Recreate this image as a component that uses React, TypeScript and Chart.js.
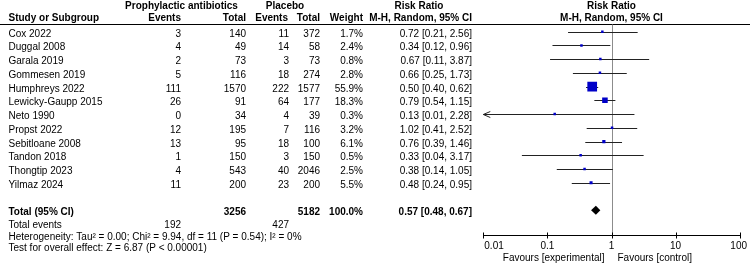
import React, { useEffect, useRef } from "react";
import { Chart, registerables } from "chart.js";
Chart.register(...registerables);

const studies = [
  "Cox 2022", "Duggal 2008", "Garala 2019", "Gommesen 2019", "Humphreys 2022", "Lewicky-Gaupp 2015",
  "Neto 1990", "Propst 2022", "Sebitloane 2008", "Tandon 2018", "Thongtip 2023", "Yilmaz 2024",
];
const expEvents = [3, 4, 2, 5, 111, 26, 0, 12, 13, 1, 4, 11];
const expTotal = [140, 49, 73, 116, 1570, 91, 34, 195, 95, 150, 543, 200];
const ctrlEvents = [11, 14, 3, 18, 222, 64, 4, 7, 18, 3, 40, 23];
const ctrlTotal = [372, 58, 73, 274, 1577, 177, 39, 116, 100, 150, 2046, 200];
const weights = [1.7, 2.4, 0.8, 2.8, 55.9, 18.3, 0.3, 3.2, 6.1, 0.5, 2.5, 5.5];
const riskRatio = [0.72, 0.34, 0.67, 0.66, 0.5, 0.79, 0.13, 1.02, 0.76, 0.33, 0.38, 0.48];
const ciLow = [0.21, 0.12, 0.11, 0.25, 0.4, 0.54, 0.01, 0.41, 0.39, 0.04, 0.14, 0.24];
const ciHigh = [2.56, 0.96, 3.87, 1.73, 0.62, 1.15, 2.28, 2.52, 1.46, 3.17, 1.05, 0.95];

const totalExp = 3256;
const totalCtrl = 5182;
const totalWeight = 100.0;
const pooledRR = 0.57;
const pooledLow = 0.48;
const pooledHigh = 0.67;
const totalExpEvents = 192;
const totalCtrlEvents = 427;
const heterogeneityText = "Heterogeneity: Tau\u00b2 = 0.00; Chi\u00b2 = 9.94, df = 11 (P = 0.54); I\u00b2 = 0%";
const overallText = "Test for overall effect: Z = 6.87 (P < 0.00001)";

const axisTicks = [0.01, 0.1, 1, 10, 100];
const tickLabels = ["0.01", "0.1", "1", "10", "100"];
const favoursLeft = "Favours [experimental]";
const favoursRight = "Favours [control]";

const FONT = "'Liberation Sans', Arial, Helvetica, sans-serif";
const REG = `10px ${FONT}`;
const BOLD = `bold 10px ${FONT}`;

const fmt2 = (v: number) => v.toFixed(2);
const rrText = (r: number, l: number, h: number) => `${fmt2(r)} [${fmt2(l)}, ${fmt2(h)}]`;
const squareSide = (w: number) => Math.max(2.5, 1.3 * Math.sqrt(w));

export default function App() {
  const ref = useRef<HTMLCanvasElement>(null);

  useEffect(() => {
    document.body.style.margin = "0";
    const canvas = ref.current!;

    const forestPlugin = {
      id: "forest",
      beforeDatasetsDraw(chart: any) {
        const ctx = chart.ctx;
        const xs = chart.scales.x;
        const ys = chart.scales.y;
        const area = chart.chartArea;
        ctx.save();
        // header rule
        ctx.strokeStyle = "#000";
        ctx.lineWidth = 1;
        ctx.beginPath();
        ctx.moveTo(0, 24.5);
        ctx.lineTo(750, 24.5);
        ctx.stroke();
        // line of no effect
        const x1 = Math.round(xs.getPixelForValue(1)) + 0.5;
        ctx.strokeStyle = "#8c8c8c";
        ctx.beginPath();
        ctx.moveTo(x1, area.top);
        ctx.lineTo(x1, area.bottom);
        ctx.stroke();
        // confidence intervals
        ctx.strokeStyle = "#222";
        studies.forEach((_, i) => {
          const yy = Math.round(ys.getPixelForValue(i)) + 0.5;
          const clipLo = ciLow[i] <= xs.min;
          const clipHi = ciHigh[i] >= xs.max;
          const xl = xs.getPixelForValue(Math.max(ciLow[i], xs.min));
          const xh = xs.getPixelForValue(Math.min(ciHigh[i], xs.max));
          ctx.beginPath();
          ctx.moveTo(xl, yy);
          ctx.lineTo(xh, yy);
          if (clipLo) {
            ctx.moveTo(xl + 7, yy - 3);
            ctx.lineTo(xl, yy);
            ctx.lineTo(xl + 7, yy + 3);
          }
          if (clipHi) {
            ctx.moveTo(xh - 7, yy - 3);
            ctx.lineTo(xh, yy);
            ctx.lineTo(xh - 7, yy + 3);
          }
          ctx.stroke();
        });
        ctx.restore();
      },
      afterDatasetsDraw(chart: any) {
        const ctx = chart.ctx;
        const xs = chart.scales.x;
        const ys = chart.scales.y;
        const yy = ys.getPixelForValue(13);
        const xl = xs.getPixelForValue(pooledLow);
        const xm = xs.getPixelForValue(pooledRR);
        const xh = xs.getPixelForValue(pooledHigh);
        ctx.save();
        ctx.fillStyle = "#000";
        ctx.beginPath();
        ctx.moveTo(xl, yy);
        ctx.lineTo(xm, yy - 4.5);
        ctx.lineTo(xh, yy);
        ctx.lineTo(xm, yy + 4.5);
        ctx.closePath();
        ctx.fill();
        ctx.restore();
      },
      afterDraw(chart: any) {
        const ctx = chart.ctx;
        const xs = chart.scales.x;
        const ys = chart.scales.y;
        const area = chart.chartArea;
        ctx.save();
        ctx.fillStyle = "#000";
        ctx.textBaseline = "alphabetic";

        const put = (t: string, x: number, y: number, align: CanvasTextAlign, bold = false) => {
          ctx.font = bold ? BOLD : REG;
          ctx.textAlign = align;
          ctx.fillText(t, x, y);
        };

        // headers
        put("Prophylactic antibiotics", 181.5, 8.5, "center", true);
        put("Placebo", 285, 8.5, "center", true);
        put("Risk Ratio", 419, 8.5, "center", true);
        put("Risk Ratio", 611.5, 8.5, "center", true);
        put("Study or Subgroup", 8.5, 20.5, "left", true);
        put("Events", 181, 20.5, "right", true);
        put("Total", 246, 20.5, "right", true);
        put("Events", 288, 20.5, "right", true);
        put("Total", 320, 20.5, "right", true);
        put("Weight", 363, 20.5, "right", true);
        put("M-H, Random, 95% CI", 472, 20.5, "right", true);
        put("M-H, Random, 95% CI", 611.5, 20.5, "center", true);

        // study rows
        studies.forEach((s, i) => {
          const b = ys.getPixelForValue(i) + 5;
          put(s, 8.5, b, "left");
          put(String(expEvents[i]), 181, b, "right");
          put(String(expTotal[i]), 246, b, "right");
          put(String(ctrlEvents[i]), 289, b, "right");
          put(String(ctrlTotal[i]), 320, b, "right");
          put(`${weights[i].toFixed(1)}%`, 363, b, "right");
          put(rrText(riskRatio[i], ciLow[i], ciHigh[i]), 472, b, "right");
        });

        // totals
        const bt = ys.getPixelForValue(13) + 4.5;
        put("Total (95% CI)", 8.5, bt, "left", true);
        put(String(totalExp), 246, bt, "right", true);
        put(String(totalCtrl), 320, bt, "right", true);
        put(`${totalWeight.toFixed(1)}%`, 363, bt, "right", true);
        put(rrText(pooledRR, pooledLow, pooledHigh), 472, bt, "right", true);
        const be = ys.getPixelForValue(14) + 4;
        put("Total events", 8.5, be, "left");
        put(String(totalExpEvents), 181, be, "right");
        put(String(totalCtrlEvents), 289, be, "right");
        put(heterogeneityText, 8.5, 239.5, "left");
        put(overallText, 8.5, 250.5, "left");

        // axis ticks and labels
        ctx.strokeStyle = "#000";
        ctx.lineWidth = 1;
        const ay = area.bottom;
        axisTicks.forEach((v, i) => {
          const px = Math.round(xs.getPixelForValue(v)) + 0.5;
          ctx.beginPath();
          ctx.moveTo(px, ay - 3);
          ctx.lineTo(px, ay + 3);
          ctx.stroke();
          ctx.font = REG;
          const w = ctx.measureText(tickLabels[i]).width;
          let cx = xs.getPixelForValue(v);
          cx = Math.max(cx, area.left + w / 2 + 1);
          cx = Math.min(cx, 747 - w / 2);
          put(tickLabels[i], cx, 248.5, "center");
        });
        const xOne = xs.getPixelForValue(1);
        put(favoursLeft, xOne - 7, 261, "right");
        put(favoursRight, xOne + 6, 261, "left");
        ctx.restore();
      },
    };

    const chart = new Chart(canvas, {
      type: "scatter",
      data: {
        datasets: [
          {
            data: riskRatio.map((v, i) => ({ x: v, y: i })),
            pointStyle: "rect",
            pointRadius: (c: any) => squareSide(weights[c.dataIndex]) / Math.SQRT2,
            pointHoverRadius: (c: any) => squareSide(weights[c.dataIndex]) / Math.SQRT2,
            backgroundColor: "#0000c8",
            borderColor: "#0000c8",
            borderWidth: 0,
          },
        ],
      },
      options: {
        responsive: false,
        animation: false,
        events: [],
        layout: { autoPadding: false, padding: { left: 483.3, right: 10.3, top: 24.5, bottom: 28.5 } },
        plugins: { legend: { display: false }, tooltip: { enabled: false } },
        scales: {
          x: {
            type: "logarithmic",
            min: 0.01,
            max: 100,
            position: "bottom",
            afterBuildTicks: (s: any) => {
              s.ticks = axisTicks.map((v) => ({ value: v }));
            },
            grid: { display: false, drawTicks: false },
            ticks: { display: false },
            border: { display: true, color: "#000", width: 1 },
          },
          y: {
            type: "linear",
            reverse: true,
            min: -0.52,
            max: 14.84,
            display: false,
          },
        },
      },
      plugins: [forestPlugin],
    } as any);

    return () => chart.destroy();
  }, []);

  return (
    <div style={{ position: "absolute", left: 0, top: 0, width: 750, height: 264, background: "#fff" }}>
      <canvas ref={ref} width={750} height={264} style={{ width: 750, height: 264, display: "block" }} />
    </div>
  );
}
